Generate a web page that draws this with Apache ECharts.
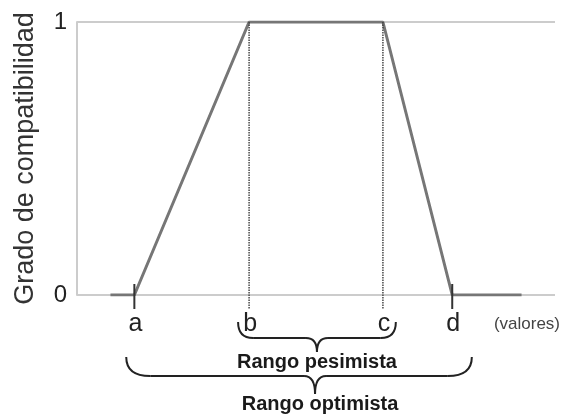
<!DOCTYPE html>
<html>
<head>
<meta charset="utf-8">
<title>Grado de compatibilidad</title>
<script src="https://cdn.jsdelivr.net/npm/echarts@6/dist/echarts.min.js"></script>
<style>
  html, body { margin: 0; padding: 0; background: #ffffff; }
  #chart { width: 563px; height: 417px; }
</style>
</head>
<body>
<div id="chart"></div>
<script>
// Trapezoidal membership function (values on a 0-100 scale)
const trapX = [7, 12, 36, 64, 78.5, 93];
const trapY = [0, 0, 1, 1, 0, 0];

// Characteristic points of the trapezoid
const pointNames = ['a', 'b', 'c', 'd'];
const pointX = [12, 36, 64, 78.5];
// 'support' points get a cross tick, 'core' points a dotted guide
const pointKind = ['support', 'core', 'core', 'support'];

// Ranges marked with braces under the axis
const braceNames = ['Rango pesimista', 'Rango optimista'];
const braceFrom = [33.7, 10.3];
const braceTo = [66.7, 82.6];
const braceTip = [50.2, 49.8];

const yTicks = [0, 1];

const FONT = '"Liberation Sans", Arial, sans-serif';
const chart = echarts.init(document.getElementById('chart'), null, { renderer: 'canvas' });

// Vertical layout of each brace level, in px below the axis line
const braceLevel = [
  { top: 27, bar: 43, tip: 57, text: 67, textDx: 0, curl: 15 },
  { top: 62, bar: 81, tip: 99, text: 109, textDx: 5, curl: 24 }
];

chart.setOption({
  backgroundColor: '#ffffff',
  animation: false,
  grid: { left: 77, right: 8, top: 22, bottom: 122 },
  xAxis: {
    type: 'value', min: 0, max: 100,
    axisLine: { show: false },
    axisTick: { show: false },
    axisLabel: { show: false },
    splitLine: { show: false }
  },
  yAxis: {
    type: 'value', min: 0, max: 1, interval: 1,
    name: 'Grado de compatibilidad',
    nameLocation: 'middle',
    nameGap: 38,
    nameTextStyle: { fontFamily: FONT, fontSize: 27, color: '#333' },
    axisLine: { show: true, lineStyle: { color: '#cccccc', width: 2 } },
    axisTick: { show: false },
    axisLabel: {
      margin: 10, fontFamily: FONT, fontSize: 24, color: '#222',
      formatter: v => (yTicks.indexOf(v) >= 0 ? String(v) : '')
    },
    splitLine: { show: true, lineStyle: { color: '#cccccc', width: 2 } }
  },
  graphic: [{
    type: 'text', right: 3, top: 316,
    style: { text: '(valores)', fontFamily: FONT, fontSize: 17, fill: '#444' }
  }],
  series: [
    {
      type: 'line',
      data: trapX.map((x, i) => [x, trapY[i]]),
      symbol: 'none',
      z: 5,
      lineStyle: { color: '#767676', width: 3 }
    },
    {
      type: 'custom',
      z: 6,
      data: pointX.map((x, i) => [x, i]),
      renderItem: function (params, api) {
        const i = api.value(1);
        const p0 = api.coord([api.value(0), 0]);
        const p1 = api.coord([api.value(0), 1]);
        const children = [];
        if (pointKind[i] === 'support') {
          children.push({
            type: 'line',
            shape: { x1: p0[0], y1: p0[1] - 11, x2: p0[0], y2: p0[1] + 14 },
            style: { stroke: '#333', lineWidth: 2 }
          });
        } else {
          children.push({
            type: 'line',
            shape: { x1: p0[0], y1: p1[1], x2: p0[0], y2: p0[1] + 14 },
            style: { stroke: '#3a3a3a', lineWidth: 1.4, lineDash: [1.5, 1] }
          });
        }
        children.push({
          type: 'text',
          x: p0[0] + 1, y: p0[1] + 29,
          style: {
            text: pointNames[i], fontFamily: FONT, fontSize: 25, fill: '#222',
            align: 'center', verticalAlign: 'middle'
          }
        });
        return { type: 'group', children: children };
      }
    },
    {
      type: 'custom',
      z: 6,
      data: braceNames.map((n, i) => [braceFrom[i], braceTo[i], braceTip[i], i]),
      renderItem: function (params, api) {
        const i = api.value(3);
        const L = braceLevel[i];
        const base = api.coord([0, 0])[1];
        const x1 = api.coord([api.value(0), 0])[0];
        const x2 = api.coord([api.value(1), 0])[0];
        const xt = api.coord([api.value(2), 0])[0];
        const yTop = base + L.top, yBar = base + L.bar, yTip = base + L.tip;
        const r = L.curl, w = 11;
        const st = { stroke: '#222', lineWidth: 2, fill: null };
        return {
          type: 'group',
          children: [
            { type: 'bezierCurve', shape: { x1: x1, y1: yTop, cpx1: x1, cpy1: yBar, x2: x1 + r, y2: yBar }, style: st },
            { type: 'line', shape: { x1: x1 + r, y1: yBar, x2: xt - w, y2: yBar }, style: st },
            { type: 'bezierCurve', shape: { x1: xt - w, y1: yBar, cpx1: xt, cpy1: yBar, x2: xt, y2: yTip }, style: st },
            { type: 'bezierCurve', shape: { x1: xt, y1: yTip, cpx1: xt, cpy1: yBar, x2: xt + w, y2: yBar }, style: st },
            { type: 'line', shape: { x1: xt + w, y1: yBar, x2: x2 - r, y2: yBar }, style: st },
            { type: 'bezierCurve', shape: { x1: x2 - r, y1: yBar, cpx1: x2, cpy1: yBar, x2: x2, y2: yTop }, style: st },
            {
              type: 'text', x: xt + L.textDx, y: base + L.text,
              style: {
                text: braceNames[i], fontFamily: FONT, fontSize: 20, fontWeight: 'bold',
                fill: '#1a1a1a', align: 'center', verticalAlign: 'middle'
              }
            }
          ]
        };
      }
    }
  ]
});
</script>
</body>
</html>
